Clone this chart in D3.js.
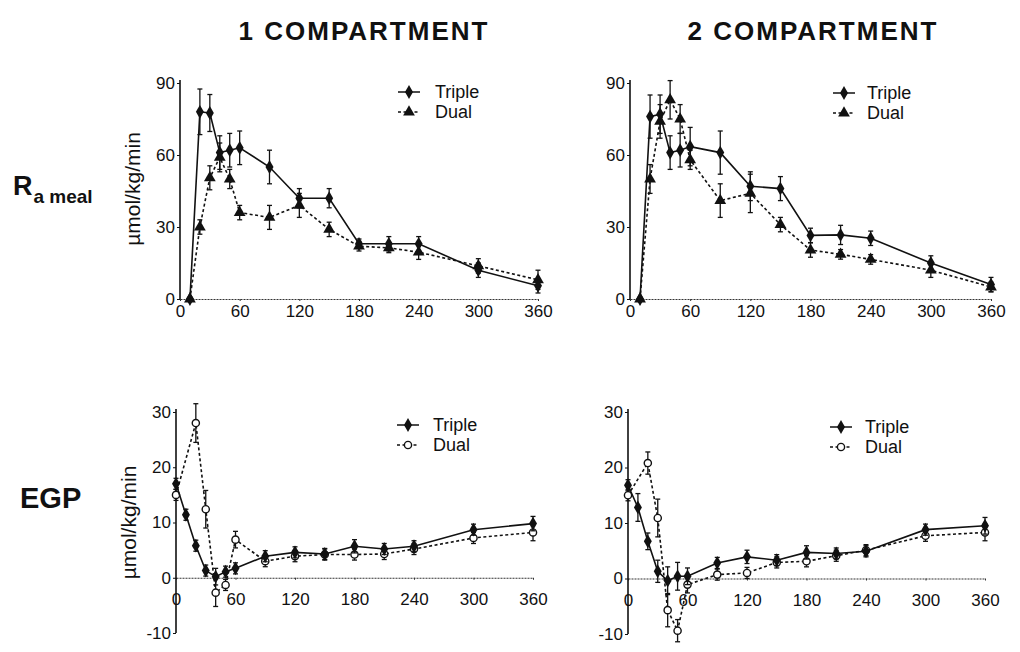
<!DOCTYPE html>
<html>
<head>
<meta charset="utf-8">
<script src="https://cdn.jsdelivr.net/npm/d3@7"></script>
<style>
  body { margin: 0; background: #fff; }
  svg { display: block; }
  text { font-family: "Liberation Sans", Arial, Helvetica, sans-serif; fill: #111; }
</style>
</head>
<body>
<svg id="chart" width="1020" height="652"></svg>
<script>
// ---------- DATA ----------
const xTicks = [0, 60, 120, 180, 240, 300, 360];
const raTicks = [0, 30, 60, 90];
const egpTicks = [-10, 0, 10, 20, 30];

const raTimes = [10, 20, 30, 40, 50, 60, 90, 120, 150, 180, 210, 240, 300, 360];
const egpTripleTimes = [0, 10, 20, 30, 40, 50, 60, 90, 120, 150, 180, 210, 240, 300, 360];
const egpDualTimes = [0, 20, 30, 40, 50, 60, 90, 120, 150, 180, 210, 240, 300, 360];

// Ra meal, 1 compartment
const ra1Triple    = [0, 78, 77.5, 61, 62, 63, 55, 42, 42, 23, 23, 23, 12, 5.5];
const ra1TripleErr = [0, 9.5, 7.7, 7, 7, 7, 7, 4, 4, 2, 3, 3, 3, 3];
const ra1Dual      = [0, 30, 50.5, 59, 50, 36, 34, 39, 29, 22, 21.3, 19.5, 13.8, 8];
const ra1DualErr   = [0, 3, 5, 6, 4, 3, 5, 5, 3, 2, 2, 3, 3, 4];

// Ra meal, 2 compartment
const ra2Triple    = [0, 76, 77, 61, 62, 63.5, 61, 47, 46, 26.5, 26.7, 25.3, 15, 6];
const ra2TripleErr = [0, 9, 8, 7, 7, 8, 9, 6, 5, 3, 4, 3, 3, 3];
const ra2Dual      = [0, 50, 74, 83, 75, 58, 41, 44, 31, 20.4, 18.6, 16.5, 12, 5];
const ra2DualErr   = [0, 6, 7, 8, 6, 4, 7, 8, 3, 3, 2, 2, 3, 2];

// EGP, 1 compartment
const egp1Triple    = [17, 11.4, 5.8, 1.3, 0.2, 1.1, 1.7, 3.9, 4.6, 4.3, 5.7, 5.2, 5.7, 8.7, 9.8];
const egp1TripleErr = [1, 1, 1, 1, 1.5, 1, 1, 1, 1, 1, 1.2, 1, 1, 1, 1.3];
const egp1Dual      = [15, 28, 12.4, -2.7, -1.3, 6.9, 3, 3.9, 4.2, 4.2, 4.3, 5.2, 7.2, 8.2];
const egp1DualErr   = [1, 3.5, 3.4, 2.5, 1, 1.5, 1, 1, 1, 1, 1, 1, 1, 1.5];

// EGP, 2 compartment
const egp2Triple    = [16.8, 12.8, 6.7, 1.3, -0.4, 0.4, 0.4, 2.8, 3.9, 3.3, 4.7, 4.5, 4.9, 8.8, 9.5];
const egp2TripleErr = [1, 2.5, 1.5, 2, 2.5, 2.5, 1.5, 1, 1.2, 1, 1.2, 1, 1, 1, 1.5];
const egp2Dual      = [15, 20.8, 10.9, -5.7, -9.4, -1.1, 0.7, 1, 2.9, 3.1, 4.1, 5.1, 7.7, 8.3];
const egp2DualErr   = [1, 2, 3.4, 3, 2, 1.5, 1, 1, 1, 1, 1, 1, 1, 1.5];

const colTitles = ["1 COMPARTMENT", "2 COMPARTMENT"];
const seriesNames = ["Triple", "Dual"];
const yUnit = "\u00b5mol/kg/min";

// ---------- LAYOUT ----------
const svg = d3.select("#chart");

const panels = [
  { xr: [180, 538], yr: [299, 83], ydom: [0, 90], yticks: raTicks, xPad: 4, showUnit: true,
    legend: [398, 435, 92], dualSym: "triangle",
    triple: [raTimes, ra1Triple, ra1TripleErr], dual: [raTimes, ra1Dual, ra1DualErr] },
  { xr: [630, 991], yr: [299, 83], ydom: [0, 90], yticks: raTicks, xPad: 4, showUnit: false,
    legend: [833, 867, 93], dualSym: "triangle",
    triple: [raTimes, ra2Triple, ra2TripleErr], dual: [raTimes, ra2Dual, ra2DualErr] },
  { xr: [176, 533], yr: [633, 412], ydom: [-10, 30], yticks: egpTicks, xPad: 13, showUnit: true,
    legend: [397, 433, 425], dualSym: "circle",
    triple: [egpTripleTimes, egp1Triple, egp1TripleErr], dual: [egpDualTimes, egp1Dual, egp1DualErr] },
  { xr: [628, 985], yr: [634, 412], ydom: [-10, 30], yticks: egpTicks, xPad: 13, showUnit: false,
    legend: [830, 865, 427], dualSym: "circle",
    triple: [egpTripleTimes, egp2Triple, egp2TripleErr], dual: [egpDualTimes, egp2Dual, egp2DualErr] }
];

function marker(g, type, cx, cy) {
  if (type === "diamond") {
    g.append("path").attr("d", d3.symbol().type(d3.symbolDiamond).size(55)())
      .attr("transform", `translate(${cx},${cy})`).attr("fill", "#111");
  } else if (type === "triangle") {
    g.append("path").attr("d", d3.symbol().type(d3.symbolTriangle).size(60)())
      .attr("transform", `translate(${cx},${cy})`).attr("fill", "#111");
  } else {
    g.append("circle").attr("cx", cx).attr("cy", cy).attr("r", 3.6)
      .attr("fill", "#fff").attr("stroke", "#111").attr("stroke-width", 1.4);
  }
}

panels.forEach(p => {
  const x = d3.scaleLinear().domain([0, 360]).range(p.xr);
  const y = d3.scaleLinear().domain(p.ydom).range(p.yr);
  const g = svg.append("g");

  // x axis (at y = 0)
  const xa = g.append("g").attr("transform", `translate(0,${y(0)})`)
    .call(d3.axisBottom(x).tickValues(xTicks).tickSize(2).tickPadding(p.xPad).tickSizeOuter(0));
  xa.select(".domain").attr("stroke", "#333").attr("stroke-width", 1.2).attr("stroke-dasharray", "2,1");
  xa.selectAll(".tick line").attr("stroke", "#333");
  xa.selectAll(".tick text").attr("font-size", 17).attr("fill", "#111");

  // y axis (extends a little above the top tick, as in the original)
  const ya = g.append("g").attr("transform", `translate(${p.xr[0]},0)`)
    .call(d3.axisLeft(y).tickValues(p.yticks).tickFormat(d => String(d))
      .tickSize(3).tickPadding(2).tickSizeOuter(0));
  ya.select(".domain").attr("stroke", "#111").attr("stroke-width", 1.6)
    .attr("d", `M0,${p.yr[0]}V${p.yr[1] - 3}`);
  ya.selectAll(".tick line").attr("stroke", "#111");
  ya.selectAll(".tick text").attr("font-size", 17).attr("fill", "#111");

  if (p.showUnit) {
    const cy = (p.yr[0] + p.yr[1]) / 2 + (p.ydom[0] < 0 ? 0 : -2);
    g.append("text").attr("transform", `translate(${p.xr[0] - 40},${cy}) rotate(-90)`)
      .attr("text-anchor", "middle").attr("font-size", 21).text(yUnit);
  }

  const line = d3.line().x(d => x(d[0])).y(d => y(d[1]));

  const drawSeries = (s, dash, sym) => {
    const [t, v, e] = s;
    const pts = t.map((tt, i) => [tt, v[i], e[i]]);
    // error bars
    pts.forEach(d => {
      if (d[2] <= 0) return;
      const cx = x(d[0]), y1 = y(d[1] + d[2]), y2 = y(d[1] - d[2]);
      g.append("line").attr("x1", cx).attr("x2", cx).attr("y1", y1).attr("y2", y2)
        .attr("stroke", "#111").attr("stroke-width", 1.3);
      [y1, y2].forEach(yy => g.append("line").attr("x1", cx - 2.5).attr("x2", cx + 2.5)
        .attr("y1", yy).attr("y2", yy).attr("stroke", "#111").attr("stroke-width", 1.3));
    });
    g.append("path").datum(pts).attr("d", line).attr("fill", "none")
      .attr("stroke", "#111").attr("stroke-width", 1.6).attr("stroke-dasharray", dash);
    pts.forEach(d => marker(g, sym, x(d[0]), y(d[1])));
  };
  drawSeries(p.dual, "3,2.5", p.dualSym);
  drawSeries(p.triple, null, "diamond");

  // legend
  const [lx, tx, ly] = p.legend;
  [["diamond", null], [p.dualSym, "3,2.5"]].forEach((it, i) => {
    const yy = ly + i * 20;
    g.append("line").attr("x1", lx).attr("x2", lx + 22).attr("y1", yy).attr("y2", yy)
      .attr("stroke", "#111").attr("stroke-width", 1.5).attr("stroke-dasharray", it[1]);
    marker(g, it[0], lx + 11, yy);
    g.append("text").attr("x", tx).attr("y", yy).attr("dy", "0.35em")
      .attr("font-size", 18).text(seriesNames[i]);
  });
});

// column titles
[364, 813].forEach((cx, i) => {
  svg.append("text").attr("x", cx).attr("y", 40).attr("text-anchor", "middle")
    .attr("font-size", 26).attr("font-weight", "bold").attr("letter-spacing", 2)
    .text(colTitles[i]);
});

// row labels
const ra = svg.append("text").attr("x", 13).attr("y", 195).attr("font-weight", "bold");
ra.append("tspan").attr("font-size", 27).text("R");
ra.append("tspan").attr("font-size", 19).attr("dy", 8).attr("dx", 1).text("a meal");

svg.append("text").attr("x", 20).attr("y", 508).attr("font-size", 29)
  .attr("font-weight", "bold").text("EGP");
</script>
</body>
</html>
